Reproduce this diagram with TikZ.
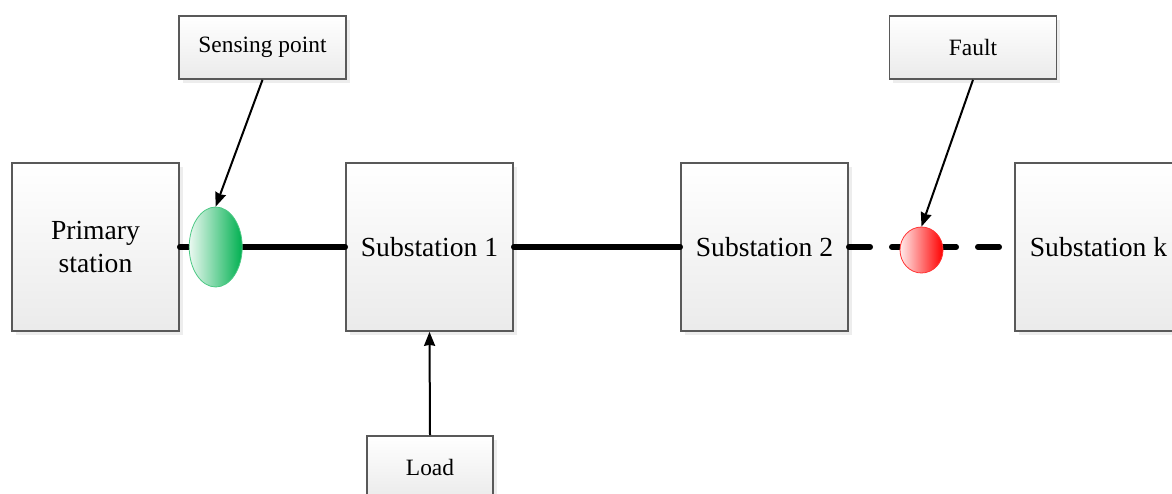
\documentclass[tikz,border=0pt]{standalone}
\usepackage{fontspec}
\setmainfont{LiberationSerif-Regular.ttf}
\newfontfamily\boxfont{LiberationSerif-Regular.ttf}
\usepackage{xcolor}
\usetikzlibrary{shapes,arrows.meta,positioning,shadows}
\definecolor{sensegreen}{RGB}{0,176,80}
\definecolor{faultred}{RGB}{255,0,0}

\begin{document}
\begin{tikzpicture}[x=0.5pt, y=-0.5pt, >={Stealth[length=7pt, width=5.5pt, inset=0.5pt]},
  block/.style={rectangle, draw=black!65, thick, top color=white, bottom color=black!8,
    drop shadow={shadow xshift=1.8pt, shadow yshift=-1.8pt, fill=black!14},
    minimum width=83.5pt, minimum height=84pt, inner sep=0pt, align=center,
    font=\boxfont\fontsize{13.8}{16.5}\selectfont},
  tag/.style={block, minimum height=31.5pt, font=\boxfont\fontsize{11.7}{14}\selectfont},
  bus/.style={line width=2.8pt, line cap=round},
  pointer/.style={->, line width=1pt}]
\useasboundingbox (0,0) rectangle (1172,493);
\clip (0,0) rectangle (1172,493);

% Stations
\node [block] (primary) at (95.5,247) {Primary\\station};
\foreach \name/\xc/\txt in {sub1/429.5/Substation 1, sub2/764.5/Substation 2, subk/1098.5/Substation k}
  \node [block] (\name) at (\xc,247) {\txt};

% Labels
\node [tag] (sensing) at (262.5,47.5) {Sensing point};
\node [tag] (fault) at (973,47.5) {Fault};
\node [tag, minimum width=63pt] (load) at (430,467.5) {Load};

% Lines
\draw [bus] (primary.east) -- (sub1.west);
\draw [bus] (sub1.east) -- (sub2.west);
\draw [bus, dash pattern=on 10.7pt off 10.8pt] (sub2.east) -- (subk.west);

% Sensing point and fault
\node [ellipse, draw=sensegreen!70, left color=sensegreen!8, right color=sensegreen,
  minimum width=26.5pt, minimum height=40pt, inner sep=0pt] (sensor) at (215.7,247) {};
\node [ellipse, draw=faultred!80, left color=faultred!8, right color=faultred,
  minimum width=21.5pt, minimum height=23pt, inner sep=0pt] (faultpt) at (921.5,250) {};

% Arrows
\draw [pointer] (sensing.south) -- (sensor.north);
\draw [pointer] (fault.south) -- (faultpt.north);
\draw [pointer] (load.north) -- (sub1.south);
\end{tikzpicture}
\end{document}
